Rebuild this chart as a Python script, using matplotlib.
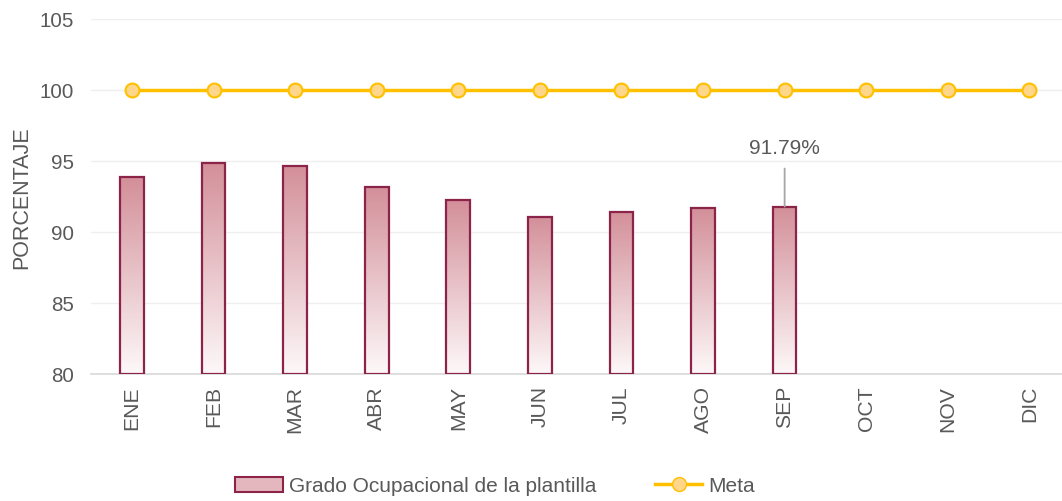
import matplotlib
matplotlib.use("Agg")
import matplotlib.pyplot as plt
import numpy as np
from matplotlib.colors import LinearSegmentedColormap
from matplotlib.patches import Rectangle
from matplotlib.lines import Line2D

plt.rcParams['font.family'] = ['Liberation Sans', 'DejaVu Sans']

months = ['ENE', 'FEB', 'MAR', 'ABR', 'MAY', 'JUN', 'JUL', 'AGO', 'SEP', 'OCT', 'NOV', 'DIC']
grado = [93.87, 94.89, 94.66, 93.2, 92.25, 91.06, 91.43, 91.67, 91.79]
meta = [100] * 12
y_ticks = [80, 85, 90, 95, 100, 105]
label_text = '91.79%'

fig = plt.figure(figsize=(10.62, 5.02), dpi=100)
ax = fig.add_axes([91.2 / 1062, 127 / 502, 1 - 91.2 / 1062, (375 - 20) / 502])
ax.set_xlim(-0.5, 11.4)
ax.set_ylim(80, 105)

for s in ['top', 'right', 'left']:
    ax.spines[s].set_visible(False)
ax.spines['bottom'].set_color('#d9d9d9')
ax.spines['bottom'].set_linewidth(1.2)
ax.yaxis.grid(True, color='#efefef', linewidth=1)
ax.set_axisbelow(True)
ax.tick_params(length=0, colors='#595959', labelsize=14.8)
ax.set_yticks(y_ticks)
ax.set_xticks(range(len(months)))
ax.set_xticklabels(months, rotation=90, fontsize=15.2)
ax.tick_params(axis='x', pad=8)
ax.tick_params(axis='y', pad=12.5)
ax.set_ylabel('PORCENTAJE', color='#595959', fontsize=15.5, labelpad=5)

cmap = LinearSegmentedColormap.from_list('g', ['#fdf8f9', '#d38f99'])
grad = np.linspace(0, 1, 256).reshape(-1, 1)
width = 0.29
bars = ax.bar(range(len(grado)), [g - 80 for g in grado], bottom=80, width=width,
              facecolor='none', edgecolor='#8c2449', linewidth=1.6, zorder=3)
for b in bars:
    x0, y0 = b.get_x(), b.get_y()
    w, h = b.get_width(), b.get_height()
    im = ax.imshow(grad, cmap=cmap, origin='lower', aspect='auto',
                   extent=(x0, x0 + w, y0, y0 + h), zorder=2)
    im.set_clip_path(b)

ax.plot(range(len(meta)), meta, color='#FFC000', linewidth=2.5, marker='o',
        markersize=10, markerfacecolor='#FFD68A', markeredgecolor='#FFC000',
        markeredgewidth=1.5, zorder=4)

ax.annotate(label_text, xy=(8, grado[8]), xytext=(8, 95.25),
            ha='center', va='bottom', fontsize=15, color='#595959',
            arrowprops=dict(arrowstyle='-', color='#a6a6a6', lw=1.3, shrinkA=6, shrinkB=0))

ax.set_xlim(-0.5, 11.4)
ax.set_ylim(80, 105)

h1 = Rectangle((0, 0), 1, 1, facecolor='#e4b7be', edgecolor='#8c2449', linewidth=1.5)
h2 = Line2D([], [], color='#FFC000', linewidth=2.5, marker='o', markersize=10,
            markerfacecolor='#FFD68A', markeredgecolor='#FFC000')
leg = fig.legend([h1, h2], ['Grado Ocupacional de la plantilla', 'Meta'],
                 loc='center', bbox_to_anchor=(495 / 1062, 1 - 487 / 502), ncol=2,
                 frameon=False, fontsize=15, handlelength=2.3, handletextpad=0.3,
                 columnspacing=2.8)
for t in leg.get_texts():
    t.set_color('#595959')

fig.savefig('out.png', dpi=100)
